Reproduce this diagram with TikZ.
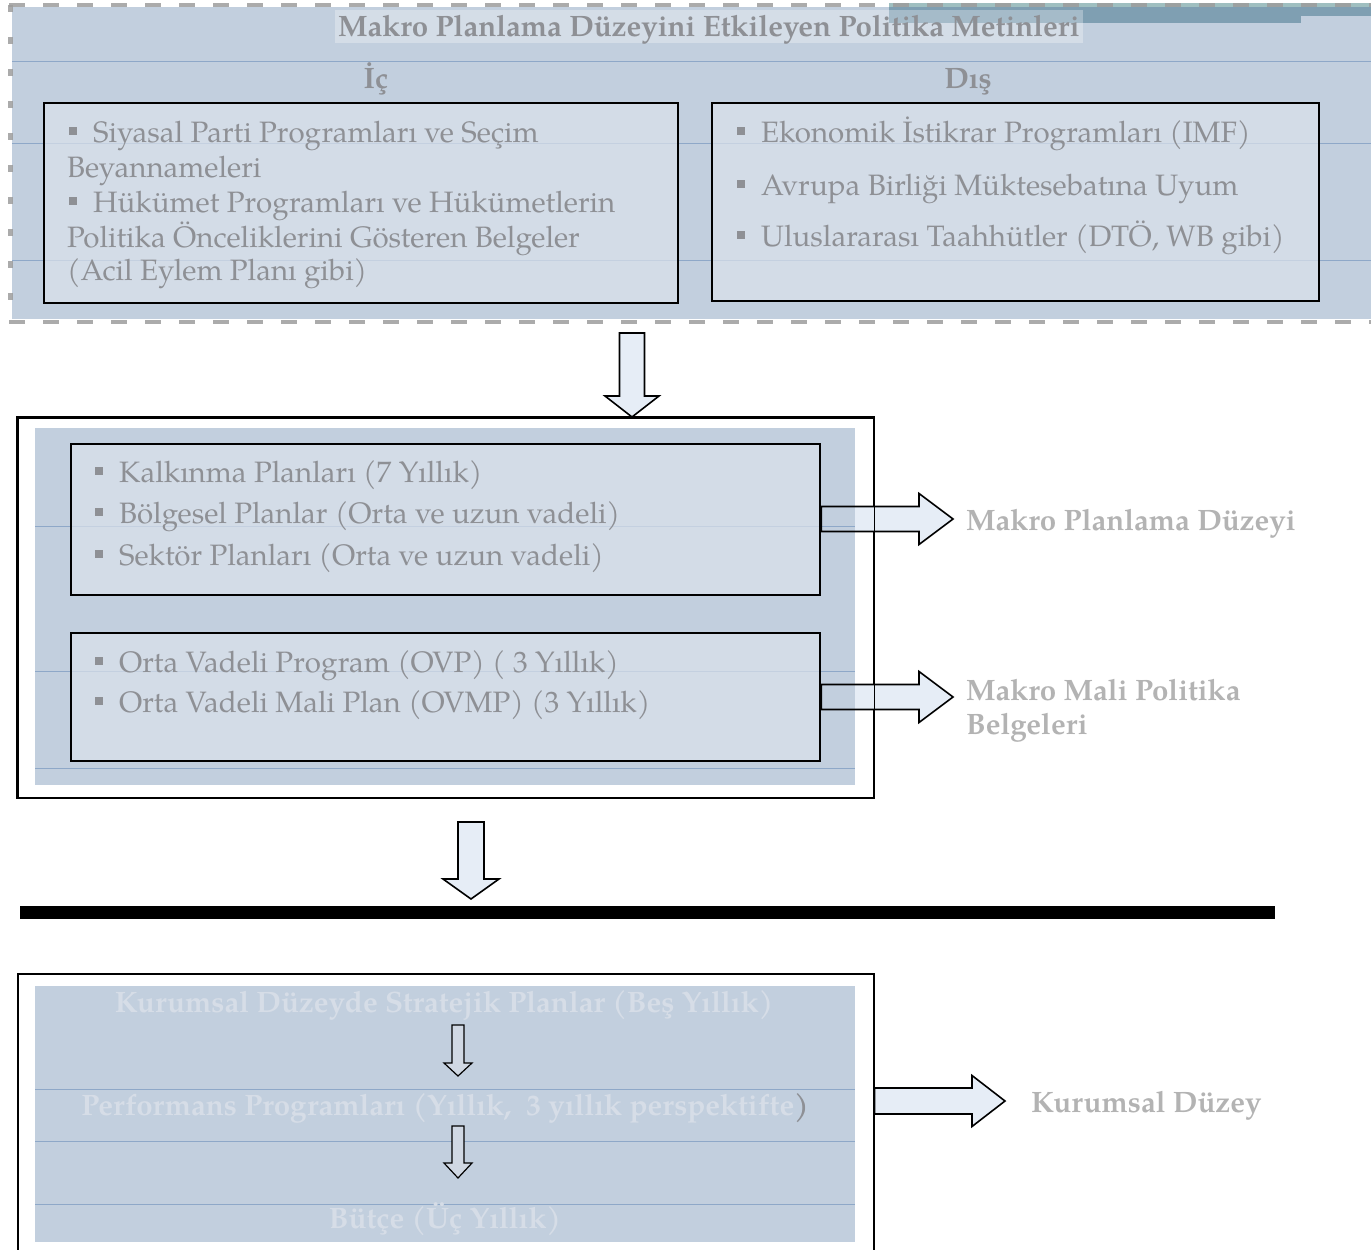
\documentclass[tikz,border=0pt]{standalone}
\usepackage{fontspec}
\setmainfont{TeX Gyre Pagella}
\usetikzlibrary{calc}

\definecolor{panel}{HTML}{C2CFDE}
\definecolor{boxfill}{HTML}{DBE2EB}
\definecolor{rulecol}{HTML}{8EA8C8}
\definecolor{txt}{HTML}{8E9095}
\definecolor{lblcol}{HTML}{B3B3B3}
\definecolor{ghostcol}{HTML}{D6DDE7}
\definecolor{arrowfill}{HTML}{E6EDF6}
\definecolor{smallfill}{HTML}{D0D8E3}
\definecolor{dashgray}{HTML}{9C9C9C}
\definecolor{steel}{HTML}{7F9FB2}
\definecolor{tealstrip}{HTML}{9FBFC0}

% small square bullet
\newcommand\bul{\textcolor{txt}{\rule[0.24em]{0.26em}{0.26em}}\hspace{0.55em}}

% block arrow pointing down: #1 options, #2 start, #3 tip, #4 shaft half width, #5 head half width, #6 head length
\newcommand\dnblock[6]{%
  \path[#1] let \p1=(#2), \p2=(#3) in
    (\x1-#4,\y1) -- (\x1+#4,\y1) -- (\x1+#4,\y2+#6) -- (\x1+#5,\y2+#6)
    -- (\x1,\y2) -- (\x1-#5,\y2+#6) -- (\x1-#4,\y2+#6) -- cycle;}
% block arrow pointing right: same arguments
\newcommand\rtblock[6]{%
  \path[#1] let \p1=(#2), \p2=(#3) in
    (\x1,\y1+#4) -- (\x2-#6,\y1+#4) -- (\x2-#6,\y1+#5) -- (\x2,\y1)
    -- (\x2-#6,\y1-#5) -- (\x2-#6,\y1-#4) -- (\x1,\y1-#4) -- cycle;}

\begin{document}
\begin{tikzpicture}[x=1pt,y=-1pt,
  font=\fontsize{29.5}{35}\selectfont,
  txtline/.style={anchor=base west, text=txt, inner sep=0pt},
  head/.style={anchor=base, text=txt, inner sep=0pt, font=\fontsize{29.5}{35}\selectfont\bfseries},
  sidelabel/.style={anchor=base west, text=lblcol, inner sep=0pt, font=\fontsize{29.5}{35}\selectfont\bfseries},
  ghost/.style={anchor=base, text=ghostcol, inner sep=0pt, font=\fontsize{29.5}{35}\selectfont\bfseries},
  framed/.style={draw=black, line width=2.2pt, fill=boxfill, fill opacity=0.7, anchor=north west, inner sep=0pt},
  outerframe/.style={draw=black, line width=1.5pt, anchor=north west, inner sep=0pt},
  blockarrow/.style={draw=black, line width=1.6pt, fill=arrowfill, line join=miter},
  smallarrow/.style={draw=black, line width=1.2pt, fill=smallfill, line join=miter},
  hrule/.style={draw=rulecol, line width=1pt}]

\useasboundingbox (0,0) rectangle (1371,1250);
\clip (0,0) rectangle (1371,1250);

% ---------- policy texts panel ----------
\fill[panel] (12,7) rectangle (1371,319);
\fill[tealstrip] (889,3) rectangle (1371,7);
\fill[steel] (889,7) rectangle (1301,23);
\fill[steel] (1301,7) rectangle (1371,16);
\fill[white, opacity=0.3] (335,10) rectangle (1083,43);
\node[head] (title) at (709,36) {Makro Planlama Düzeyini Etkileyen Politika Metinleri};

\foreach \yy in {61,143,260} \draw[hrule] (12,\yy) -- (1371,\yy);

\node[head] (ic) at (376,88) {İç};
\node[head] (dis) at (968,88) {Dış};

\node[framed, minimum width=634, minimum height=200] (icbox) at (43,102) {};
\node[framed, minimum width=607, minimum height=198] (disbox) at (711,102) {};

\node[txtline] (i1) at (69,142) {\bul Siyasal Parti Programları ve Seçim};
\node[txtline] (i2) at (67,177) {Beyannameleri};
\node[txtline] (i3) at (69,212) {\bul Hükümet Programları ve Hükümetlerin};
\node[txtline] (i4) at (67,247) {Politika Önceliklerini Gösteren Belgeler};
\node[txtline] (i5) at (67,280) {(Acil Eylem Planı gibi)};

\node[txtline] (d1) at (737,142) {\bul Ekonomik İstikrar Programları (IMF)};
\node[txtline] (d2) at (737,195) {\bul Avrupa Birliği Müktesebatına Uyum};
\node[txtline] (d3) at (737,246) {\bul Uluslararası Taahhütler (DTÖ, WB gibi)};

% dashed frame of the panel
\draw[dashgray, opacity=0.85, line width=4pt, dash pattern=on 16pt off 18pt] (9,5) -- (1371,5);
\draw[dashgray, opacity=0.85, line width=4pt, dash pattern=on 16pt off 18pt] (9,322) -- (1371,322);
\draw[dashgray, opacity=0.85, line width=5pt, dash pattern=on 7pt off 25pt] (10,5) -- (10,322);

% ---------- macro planning block ----------
\node[outerframe, minimum width=856, minimum height=380] (mid) at (17,417) {};
\coordinate (a1top) at (632,333);
\dnblock{blockarrow}{a1top}{a1top |- mid.north}{12.5pt}{27pt}{21pt}

\coordinate (t1) at (953,519);
\coordinate (t2) at (953,697);
\coordinate (s1) at (819,519);
\coordinate (s2) at (819,697);
\rtblock{fill=arrowfill}{s1}{t1}{12.5pt}{25.5pt}{34pt}
\rtblock{fill=arrowfill}{s2}{t2}{12.5pt}{25.5pt}{34pt}

\fill[panel] (35,428) rectangle (855,785);
\foreach \yy in {526,671,768} \draw[hrule] (35,\yy) -- (855,\yy);

\node[framed, minimum width=749, minimum height=151] (plans) at (70,443) {};
\node[framed, minimum width=749, minimum height=128] (ovp) at (70,632) {};

\node[txtline] (p1) at (95,482) {\bul Kalkınma Planları (7 Yıllık)};
\node[txtline] (p2) at (95,523) {\bul Bölgesel Planlar (Orta ve uzun vadeli)};
\node[txtline] (p3) at (95,565) {\bul Sektör Planları (Orta ve uzun vadeli)};
\node[txtline] (o1) at (95,672) {\bul Orta Vadeli Program (OVP) ( 3 Yıllık)};
\node[txtline] (o2) at (95,712) {\bul Orta Vadeli Mali Plan (OVMP) (3 Yıllık)};

\rtblock{draw=black, line width=1.6pt, line join=miter}{plans.east |- t1}{t1}{12.5pt}{25.5pt}{34pt}
\rtblock{draw=black, line width=1.6pt, line join=miter}{ovp.east |- t2}{t2}{12.5pt}{25.5pt}{34pt}
\draw[black, line width=1.5pt] (mid.north west) rectangle (mid.south east);

\node[sidelabel] (lab1) at (966,530) {Makro Planlama Düzeyi};
\node[sidelabel] (lab2) at (966,700) {Makro Mali Politika};
\node[sidelabel] (lab3) at (966,734) {Belgeleri};

% ---------- divider ----------
\node[fill=black, inner sep=0pt, minimum width=1255, minimum height=13, anchor=north west] (bar) at (20,906) {};
\coordinate (a2top) at (471,822);
\coordinate (a2tip) at (471,899);
\dnblock{blockarrow}{a2top}{a2tip}{13pt}{28pt}{20pt}

% ---------- institutional block ----------
\node[outerframe, minimum width=856, minimum height=279] (kur) at (17,973) {};
\fill[panel] (35,986) rectangle (855,1242);
\foreach \yy in {1089,1141,1204} \draw[hrule] (35,\yy) -- (855,\yy);

\node[ghost] (sp) at (444,1012) {Kurumsal Düzeyde Stratejik Planlar (Beş Yıllık)};
\node[ghost] (pp) at (445,1115) {Performans Programları (Yıllık,\ \ 3 yıllık perspektifte\textcolor{txt}{)}};
\node[ghost] (bt) at (445,1228) {Bütçe (Üç Yıllık)};

\coordinate (k1) at (458,1025);
\coordinate (k2) at (458,1076);
\coordinate (k3) at (458,1126);
\coordinate (k4) at (458,1178);
\dnblock{smallarrow}{k1}{k2}{6pt}{14pt}{13pt}
\dnblock{smallarrow}{k3}{k4}{6pt}{14pt}{15pt}

\coordinate (t3) at (1005,1101);
\rtblock{blockarrow}{kur.east |- t3}{t3}{13pt}{25.5pt}{33pt}
\node[sidelabel] (lab4) at (1031,1112) {Kurumsal Düzey};

\end{tikzpicture}
\end{document}
